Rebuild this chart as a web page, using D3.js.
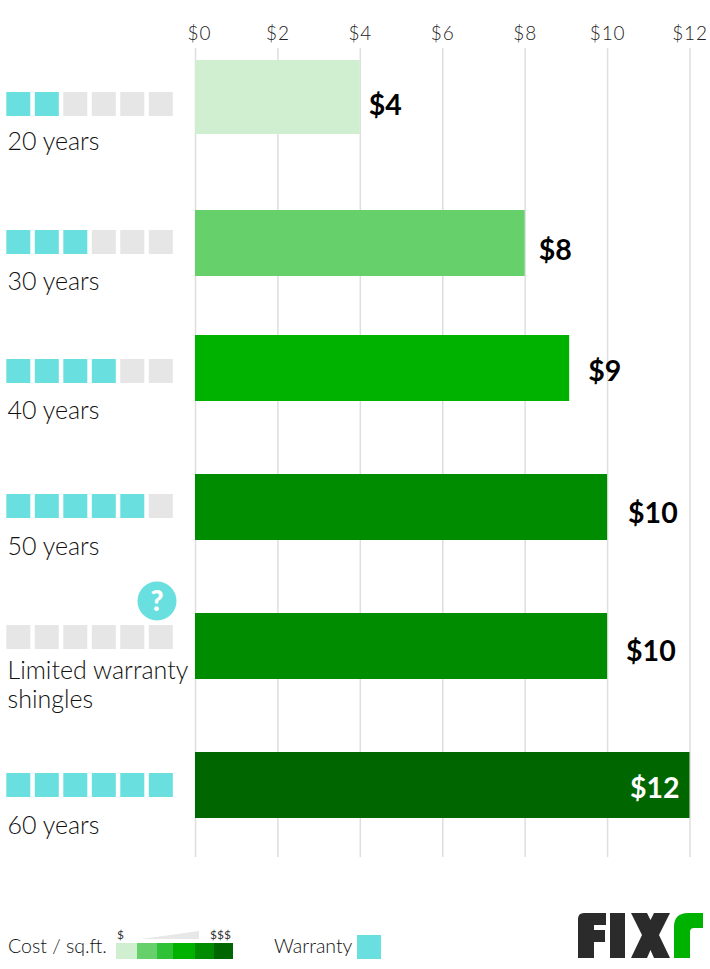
<!DOCTYPE html>
<html>
<head>
<meta charset="utf-8">
<script src="https://d3js.org/d3.v7.min.js"></script>
<style>
  html, body { margin: 0; padding: 0; background: #fff; }
  text { font-family: Lato, "Open Sans", sans-serif; }
  .axis text { font-size: 19px; font-weight: 300; fill: #222; letter-spacing: .9px; }
  .axis line { stroke: #dedede; stroke-width: 1.5; }
  .rowLabel { font-size: 25px; font-weight: 300; fill: #111; }
  .valueLabel { font-size: 28.5px; font-weight: 700; }
  .legendText { font-size: 19.5px; font-weight: 300; fill: #111; }
  .legendTick { font-size: 12px; fill: #333; }
</style>
</head>
<body>
<div id="chart-area"></div>
<script>
// chart data
var categories = ["20 years", "30 years", "40 years", "50 years", "Limited warranty|shingles", "60 years"];
var costs = [4, 8, 9.08, 10, 10, 12];
var costLabels = ["$4", "$8", "$9", "$10", "$10", "$12"];
var warrantyLevels = [2, 3, 4, 5, 0, 6];
var tickValues = [0, 2, 4, 6, 8, 10, 12];
var legendColours = ["#d0efd0", "#66d16a", "#2fc136", "#00b200", "#008c00", "#006600"];
var barColours = ["#d0efd0", "#66d16a", "#00b200", "#008c00", "#008c00", "#006600"];

var width = 710, height = 969;
var squareCount = 6, squareSize = 24, squareStep = 28.5;

var svg = d3.select("#chart-area").append("svg")
  .attr("width", width)
  .attr("height", height)
  .style("display", "block");

var x = d3.scaleLinear().domain([0, 12]).range([195, 689.5]);

// the rows are not evenly spaced in the original, so the scales carry the layout
var yBar = d3.scaleOrdinal().domain(categories).range([60, 210, 335, 474, 613, 752]);
var barHeight = d3.scaleOrdinal().domain(categories).range([74, 66, 66, 66, 66, 66]);
var ySquares = d3.scaleOrdinal().domain(categories).range([92, 230, 359, 494, 625, 773]);
var yRowLabel = d3.scaleOrdinal().domain(categories).range([150, 290, 419, 555, 679, 834]);
var yValue = d3.scaleOrdinal().domain(categories).range([115, 260, 381, 523, 661, 798]);
var labelGap = d3.scaleOrdinal().domain(categories).range([9, 14, 19, 21, 19, -10]);

// axis + gridlines
var xAxis = d3.axisTop(x)
  .tickValues(tickValues)
  .tickFormat(d => "$" + d)
  .tickSize(-(857 - 48))
  .tickPadding(8);

var axisG = svg.append("g")
  .attr("class", "axis")
  .attr("transform", "translate(0,48)")
  .call(xAxis);
axisG.select(".domain").remove();
axisG.selectAll(".tick text").filter(d => d == 0).attr("dx", 4);

// bars
svg.selectAll("rect.bar")
  .data(categories)
  .enter()
  .append("rect")
  .attr("class", "bar")
  .attr("x", x(0))
  .attr("y", d => yBar(d))
  .attr("width", (d, i) => x(costs[i]) - x(0))
  .attr("height", d => barHeight(d))
  .style("fill", (d, i) => barColours[i]);

// value labels
svg.selectAll("text.valueLabel")
  .data(categories)
  .enter()
  .append("text")
  .attr("class", "valueLabel")
  .attr("x", (d, i) => x(costs[i]) + labelGap(d))
  .attr("y", d => yValue(d))
  .style("text-anchor", (d, i) => costs[i] == 12 ? "end" : "start")
  .style("fill", (d, i) => costs[i] == 12 ? "#fff" : "#000")
  .text((d, i) => costLabels[i]);

// warranty squares
categories.forEach((cat, i) => {
  svg.selectAll("rect.sq" + i)
    .data(d3.range(squareCount))
    .enter()
    .append("rect")
    .attr("class", "sq" + i)
    .attr("x", k => 6.3 + k * squareStep)
    .attr("y", ySquares(cat))
    .attr("width", squareSize)
    .attr("height", squareSize)
    .style("fill", k => k < warrantyLevels[i] ? "#6adfe0" : "#e6e6e6");

  var t = svg.append("text")
    .attr("class", "rowLabel")
    .attr("x", 7.5)
    .attr("y", yRowLabel(cat));
  cat.split("|").forEach((line, n) => {
    t.append("tspan").attr("x", 7.5).attr("dy", n ? 29 : 0).text(line);
  });
});

// question mark badge
var limitedY = ySquares(categories[4]);
svg.append("circle")
  .attr("cx", 157).attr("cy", limitedY - 24).attr("r", 19.5)
  .style("fill", "#6adfe0");
svg.append("text")
  .attr("x", 157).attr("y", limitedY - 14)
  .style("text-anchor", "middle")
  .style("font-size", "28px").style("font-weight", 900).style("fill", "#fff")
  .text("?");

// legend
svg.append("text").attr("class", "legendText").attr("x", 8).attr("y", 953).text("Cost / sq.ft.");

var legendX = d3.scaleOrdinal().domain(legendColours).range([116, 137, 157, 173, 195, 214]);
var legendW = d3.scaleOrdinal().domain(legendColours).range([21, 20, 16, 22, 19, 19]);
svg.selectAll("rect.legend")
  .data(legendColours)
  .enter()
  .append("rect")
  .attr("class", "legend")
  .attr("x", d => legendX(d))
  .attr("y", 943)
  .attr("width", d => legendW(d))
  .attr("height", 16)
  .style("fill", d => d);

svg.append("text").attr("class", "legendTick").attr("x", 117).attr("y", 939).text("$");
svg.append("text").attr("class", "legendTick").attr("x", 231).attr("y", 939)
  .style("text-anchor", "end").text("$$$");
svg.append("path").attr("d", "M141,939L199,931V939Z").style("fill", "#e8e8e8");

svg.append("text").attr("class", "legendText").attr("x", 274).attr("y", 953).text("Warranty");
svg.append("rect").attr("x", 357).attr("y", 935).attr("width", 24).attr("height", 24)
  .style("fill", "#6adfe0");

// logo
var logo = svg.append("g").attr("transform", "translate(578,913)");
logo.append("path").style("fill", "#2b2b2b")
  .attr("d", "M0,6Q0,0 6,0H28V12H16V17H27V29H16V45H0Z");
logo.append("rect").attr("x", 32).attr("width", 15).attr("height", 45).style("fill", "#2b2b2b");
logo.append("path").style("fill", "#2b2b2b")
  .attr("d", "M53,0H69L72.5,7L76,0H92L81,22L92,45H76L72.5,37L69,45H53L64,22Z");
logo.append("path").style("fill", "#00b200")
  .attr("d", "M96,45V14Q96,0 110,0H125V15H116Q112,15 112,19V45Z");
</script>
</body>
</html>
